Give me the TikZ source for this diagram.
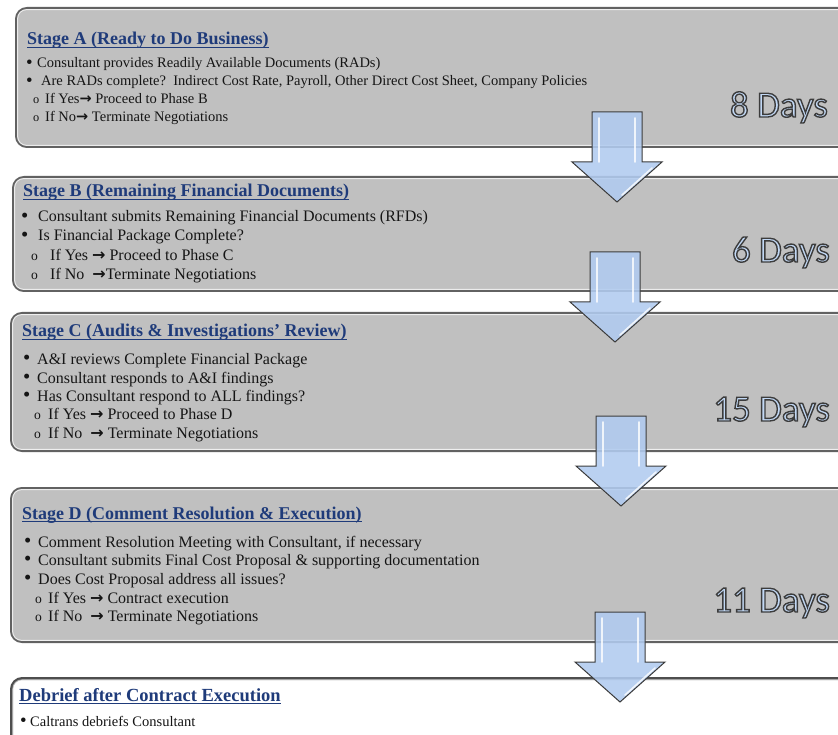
\documentclass[tikz,border=0pt]{standalone}
\usepackage{fontspec}
\setmainfont{Liberation Serif}
\newfontfamily\daysfont{Carlito}
\newfontfamily\arrfont{DejaVu Sans}
\definecolor{boxfill}{HTML}{C0C0C0}
\definecolor{boxline}{HTML}{626262}
\definecolor{titleblue}{HTML}{1F3B7A}
\definecolor{arrowfill}{HTML}{B1CBF0}
\definecolor{arrowline}{HTML}{3C3C3C}
\definecolor{daysfill}{HTML}{C2D8F4}
\definecolor{bodytext}{HTML}{151515}
\tikzset{
  stagebox/.style={draw=boxline, fill=boxfill, line width=2pt, rounded corners=11pt, anchor=north west, inner sep=0pt},
  lastbox/.style={draw=boxline!80!black, fill=white, line width=2.6pt, rounded corners=11pt, anchor=north west, inner sep=0pt},
  hilite/.style={draw=white, draw opacity=.75, line width=1pt, rounded corners=9pt},
  ttl/.style={anchor=base west, inner sep=0pt, text=titleblue, font=\bfseries\fontsize{18}{20}\selectfont},
  ttlline/.style={draw=titleblue, line width=1.2pt},
  bodyA/.style={anchor=base west, inner sep=0pt, text=bodytext, font=\fontsize{14.5}{17}\selectfont},
  bodyB/.style={anchor=base west, inner sep=0pt, text=bodytext, font=\fontsize{16}{18}\selectfont},
  daysstyle/.style={anchor=base east, inner sep=0pt, text=daysfill, font=\daysfont\fontsize{37}{37}\selectfont},
  arrowbody/.style={fill=arrowfill, fill opacity=.88, draw=arrowline, line width=1pt, line join=miter},
  arrowhl/.style={draw=white, draw opacity=.8, line width=1.6pt, line cap=round},
  blockarrow/.pic={
    \path[arrowbody] (-25,0) -- (25,0) -- (25,50) -- (45,50) -- (0,90) -- (-45,50) -- (-25,50) -- cycle;
    \draw[arrowhl] (-18,6) -- (-18,50);
    \draw[arrowhl] (18,6) -- (18,50);
    \draw[arrowhl] (35,56) -- (5,83);
  }
}
% outlined text: fill with current colour, stroke dark grey
\newcommand\outl[1]{\special{pdf:literal direct 0.235 0.235 0.235 RG 1.4 w 2 Tr}#1\special{pdf:literal direct 0 Tr}}
\newcommand\myarr{{\arrfont\bfseries\scalebox{1.0}{→}}}
\newcommand\subbul{{\scalebox{.85}{o}}}
\newcommand\bul{\smash{\raisebox{-.5pt}{\scalebox{1.3}{•}}}}
% underline a title node
\newcommand\ulnode[1]{\draw[ttlline] ([yshift=-2.6pt]#1.base west) -- ([yshift=-2.6pt]#1.base east);}

\begin{document}
\begin{tikzpicture}[x=1pt, y=-1pt]
\useasboundingbox (0,0) rectangle (838,735);
\clip (0,0) rectangle (838,735);
\fill[white] (0,0) rectangle (838,735);

% ---------- boxes ----------
\node[stagebox, minimum width=860pt, minimum height=139pt] (boxA) at (15,7) {};
\node[stagebox, minimum width=860pt, minimum height=114pt] (boxB) at (12,176) {};
\node[stagebox, minimum width=860pt, minimum height=138pt] (boxC) at (10,312) {};
\node[stagebox, minimum width=860pt, minimum height=154pt] (boxD) at (10,487) {};
\node[lastbox, minimum width=860pt, minimum height=100pt] (boxE) at (10,677) {};
\foreach \b in {boxA,boxB,boxC,boxD}{
  \draw[hilite] ([shift={(2.6pt,-2.6pt)}]\b.north west) rectangle ([shift={(-2.6pt,2.6pt)}]\b.south east);}
\draw[hilite, draw=boxfill] ([shift={(2.8pt,-2.8pt)}]boxE.north west) rectangle ([shift={(-2.8pt,2.8pt)}]boxE.south east);

% ---------- Stage A ----------
\node[ttl] (tA) at (27,45) {Stage A (Ready to Do Business)}; \ulnode{tA}
\node[bodyA] (a1b) at (26,68) {\bul};
\node[bodyA] (a1) at (37,68) {Consultant provides Readily Available Documents (RADs)};
\node[bodyA] (a2b) at (26,86) {\bul};
\node[bodyA] (a2) at (41,86) {Are RADs complete?\ \ Indirect Cost Rate, Payroll, Other Direct Cost Sheet, Company Policies};
\node[bodyA] (a3b) at (33,104) {\subbul};
\node[bodyA] (a3) at (45,104) {If Yes\myarr\ Proceed to Phase B};
\node[bodyA] (a4b) at (33,122) {\subbul};
\node[bodyA] (a4) at (45,122) {If No\myarr\ Terminate Negotiations};

% ---------- Stage B ----------
\node[ttl] (tB) at (23,197) {Stage B (Remaining Financial Documents)}; \ulnode{tB}
\node[bodyB] (b1b) at (21,222) {\bul};
\node[bodyB] (b1) at (38,222) {Consultant submits Remaining Financial Documents (RFDs)};
\node[bodyB] (b2b) at (21,241) {\bul};
\node[bodyB] (b2) at (38,241) {Is Financial Package Complete?};
\node[bodyB] (b3b) at (31,261) {\subbul};
\node[bodyB] (b3) at (50,261) {If Yes \myarr\ Proceed to Phase C};
\node[bodyB] (b4b) at (31,280) {\subbul};
\node[bodyB] (b4) at (50,280) {If No\ \ \myarr Terminate Negotiations};

% ---------- Stage C ----------
\node[ttl] (tC) at (22,337) {Stage C (Audits \& Investigations' Review)}; \ulnode{tC}
\node[bodyB] (c1b) at (23,364) {\bul};
\node[bodyB] (c1) at (37,364) {A\&I reviews Complete Financial Package};
\node[bodyB] (c2b) at (23,383) {\bul};
\node[bodyB] (c2) at (37,383) {Consultant responds to A\&I findings};
\node[bodyB] (c3b) at (23,401) {\bul};
\node[bodyB] (c3) at (37,401) {Has Consultant respond to ALL findings?};
\node[bodyB] (c4b) at (34,419) {\subbul};
\node[bodyB] (c4) at (48,419) {If Yes \myarr\ Proceed to Phase D};
\node[bodyB] (c5b) at (34,438) {\subbul};
\node[bodyB] (c5) at (48,438) {If No\ \ \myarr\ Terminate Negotiations};

% ---------- Stage D ----------
\node[ttl] (tD) at (22,519) {Stage D (Comment Resolution \& Execution)}; \ulnode{tD}
\node[bodyB] (d1b) at (24,547) {\bul};
\node[bodyB] (d1) at (38,547) {Comment Resolution Meeting with Consultant, if necessary};
\node[bodyB] (d2b) at (24,565) {\bul};
\node[bodyB] (d2) at (38,565) {Consultant submits Final Cost Proposal \& supporting documentation};
\node[bodyB] (d3b) at (24,584) {\bul};
\node[bodyB] (d3) at (38,584) {Does Cost Proposal address all issues?};
\node[bodyB] (d4b) at (35,603) {\subbul};
\node[bodyB] (d4) at (48,603) {If Yes \myarr\ Contract execution};
\node[bodyB] (d5b) at (35,621) {\subbul};
\node[bodyB] (d5) at (48,621) {If No\ \ \myarr\ Terminate Negotiations};

% ---------- Debrief ----------
\node[ttl, font=\bfseries\fontsize{18.5}{20}\selectfont] (tE) at (19,701) {Debrief after Contract Execution}; \ulnode{tE}
\node[bodyA] (e1b) at (20,726) {\bul};
\node[bodyA] (e1) at (30,726) {Caltrans debriefs Consultant};

% ---------- durations ----------
\node[daysstyle] (dA) at (828,117) {\outl{8 Days}};
\node[daysstyle] (dB) at (830,262) {\outl{6 Days}};
\node[daysstyle] (dC) at (830,421) {\outl{15 Days}};
\node[daysstyle] (dD) at (830,612) {\outl{11 Days}};

% ---------- block arrows ----------
\pic (arAB) at (617,112) {blockarrow};
\pic (arBC) at (615,252) {blockarrow};
\pic (arCD) at (621,416) {blockarrow};
\pic (arDE) at (620,612) {blockarrow};
\end{tikzpicture}
\end{document}
